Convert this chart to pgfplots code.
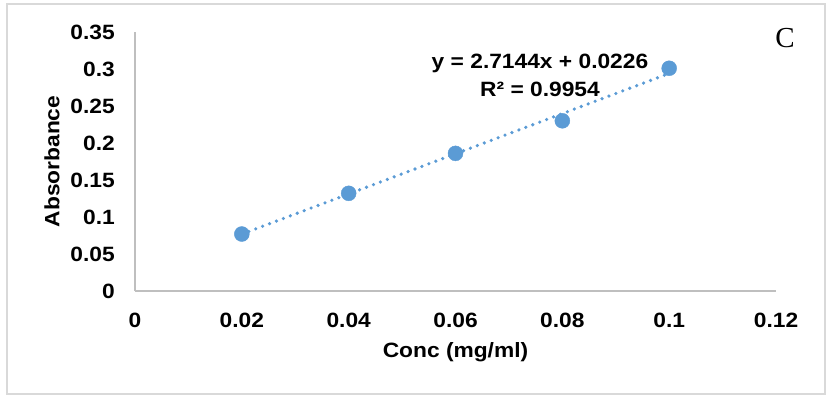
\documentclass[border=0pt]{standalone}
\usepackage{pgfplots}
\pgfplotsset{compat=1.18}
\usepackage{fontspec}
\setmainfont{Liberation Sans}[FakeStretch=1.1]
\newfontfamily\seriffont{Liberation Serif}
\definecolor{pt}{HTML}{5B9BD5}
\definecolor{ax}{HTML}{BFBFBF}
\definecolor{fr}{HTML}{D9D9D9}
\newcommand{\lblfont}{\bfseries\fontsize{20.7bp}{24bp}\selectfont}
\begin{document}
\begin{tikzpicture}[x=1bp,y=1bp]
\path[use as bounding box] (0,0) rectangle (832,399);
\draw[fr, line width=1.5bp] (7,5) rectangle (825,395);
\begin{axis}[
  at={(135bp,108bp)}, anchor=south west,
  scale only axis, width=641bp, height=259bp,
  xmin=0, xmax=0.12, ymin=0, ymax=0.35,
  axis x line*=bottom, axis y line*=left,
  axis line style={-, draw=ax, line width=1.5bp},
  major tick length=0pt,
  xtick={0,0.02,0.04,0.06,0.08,0.1,0.12},
  xticklabels={0,0.02,0.04,0.06,0.08,0.1,0.12},
  ytick={0,0.05,0.1,0.15,0.2,0.25,0.3,0.35},
  yticklabels={0,0.05,0.1,0.15,0.2,0.25,0.3,0.35},
  ticklabel style={font=\lblfont, inner sep=0pt},
  xticklabel style={anchor=center, yshift=-29bp},
  yticklabel style={anchor=east, xshift=-20bp},
  xlabel={Conc (mg/ml)},
  ylabel={Absorbance},
  every axis x label/.style={at={(axis description cs:0.5,-0.2355)}, anchor=center, inner sep=0pt, font=\lblfont},
  every axis y label/.style={at={(axis description cs:-0.1295,0.5)}, anchor=center, rotate=90, inner sep=0pt, font=\lblfont},
  clip=false,
]
\addplot[only marks, mark=*, mark size=7.5bp, mark options={fill=pt, draw=pt}]
  coordinates {(0.02,0.077) (0.04,0.132) (0.06,0.186) (0.08,0.230) (0.1,0.301)};
\addplot[pt, line width=3.6bp, line cap=round, dash pattern=on 0bp off 7.4bp]
  coordinates {(0.02,0.0769) (0.1,0.2940)};
\end{axis}
\node[font=\lblfont, inner sep=0pt] at (540,336) {y = 2.7144x + 0.0226};
\node[font=\lblfont, inner sep=0pt] at (540,310) {R² = 0.9954};
\node[font=\seriffont\fontsize{29bp}{32bp}\selectfont, inner sep=0pt] at (785,361) {C};
\end{tikzpicture}
\end{document}
